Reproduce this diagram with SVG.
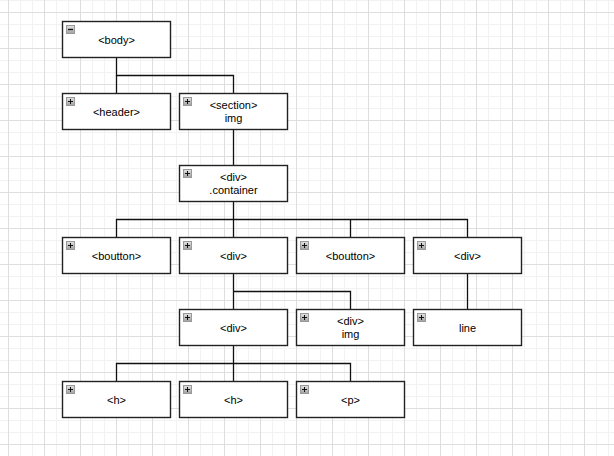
<svg xmlns="http://www.w3.org/2000/svg" width="614" height="456" viewBox="0 0 614 456">
<defs>
<pattern id="minor" width="12" height="12" patternUnits="userSpaceOnUse" x="8" y="12">
<path d="M0 0.5H12M0.5 0V12" stroke="#f2f2f2" stroke-width="1" fill="none"/>
</pattern>
<pattern id="major" width="36" height="36" patternUnits="userSpaceOnUse" x="8" y="12">
<path d="M0 0.5H36M0.5 0V36" stroke="#dedede" stroke-width="1" fill="none"/>
</pattern>
<linearGradient id="ig" x1="0" y1="0" x2="0" y2="1">
<stop offset="0" stop-color="#e4e4e4"/>
<stop offset="1" stop-color="#a0a0a0"/>
</linearGradient>
<g id="plus"><rect x="0.5" y="0.5" width="8" height="8" fill="url(#ig)" stroke="#999" stroke-width="1"/><path d="M2 4.5H7M4.5 2V7" stroke="#111" stroke-width="1"/></g>
<g id="minus"><rect x="0.5" y="0.5" width="8" height="8" fill="url(#ig)" stroke="#999" stroke-width="1"/><path d="M2 4.5H7" stroke="#111" stroke-width="1.3"/></g>
</defs>
<style>
.box{fill:#fff;stroke:#222;stroke-width:1.4}
.t{font-family:"Liberation Sans",Arial,sans-serif;font-size:11px;fill:#000;text-anchor:middle}
.c{fill:none;stroke:#111;stroke-width:1.3}
</style>
<rect width="614" height="456" fill="#fff"/>
<rect width="614" height="456" fill="url(#minor)"/>
<rect width="614" height="456" fill="url(#major)"/>
<g id="connectors">
<path class="c" d="M116.5 57.5V75.5H233.5V93.5"/>
<path class="c" d="M116.5 75.5V93.5"/>
<path class="c" d="M233.5 129.5V165.5"/>
<path class="c" d="M233.5 201.5V237.5"/>
<path class="c" d="M116.5 237.5V219.5H467.5V237.5M350.5 219.5V237.5"/>
<path class="c" d="M233.5 273.5V309.5M233.5 291.5H350.5V309.5"/>
<path class="c" d="M467.5 273.5V309.5"/>
<path class="c" d="M233.5 345.5V381.5M116.5 381.5V363.5H350.5V381.5"/>
</g>
<g id="n-body"><rect class="box" x="62.5" y="21.5" width="108" height="36"/><use href="#minus" x="66" y="25"/><text class="t" x="116.5" y="43.5">&lt;body&gt;</text></g>
<g id="n-header"><rect class="box" x="62.5" y="93.5" width="108" height="36"/><use href="#plus" x="66" y="97"/><text class="t" x="116.5" y="115.5">&lt;header&gt;</text></g>
<g id="n-section"><rect class="box" x="179.5" y="93.5" width="108" height="36"/><use href="#plus" x="183" y="97"/><text class="t" x="233.5" y="108.5">&lt;section&gt;</text><text class="t" x="233.5" y="122">img</text></g>
<g id="n-container"><rect class="box" x="179.5" y="165.5" width="108" height="36"/><use href="#plus" x="183" y="169"/><text class="t" x="233.5" y="180.5">&lt;div&gt;</text><text class="t" x="233.5" y="194">.container</text></g>
<g id="n-boutton1"><rect class="box" x="62.5" y="237.5" width="108" height="36"/><use href="#plus" x="66" y="241"/><text class="t" x="116.5" y="259.5">&lt;boutton&gt;</text></g>
<g id="n-div1"><rect class="box" x="179.5" y="237.5" width="108" height="36"/><use href="#plus" x="183" y="241"/><text class="t" x="233.5" y="259.5">&lt;div&gt;</text></g>
<g id="n-boutton2"><rect class="box" x="296.5" y="237.5" width="108" height="36"/><use href="#plus" x="300" y="241"/><text class="t" x="350.5" y="259.5">&lt;boutton&gt;</text></g>
<g id="n-div2"><rect class="box" x="413.5" y="237.5" width="108" height="36"/><use href="#plus" x="417" y="241"/><text class="t" x="467.5" y="259.5">&lt;div&gt;</text></g>
<g id="n-div3"><rect class="box" x="179.5" y="309.5" width="108" height="36"/><use href="#plus" x="183" y="313"/><text class="t" x="233.5" y="331.5">&lt;div&gt;</text></g>
<g id="n-divimg"><rect class="box" x="296.5" y="309.5" width="108" height="36"/><use href="#plus" x="300" y="313"/><text class="t" x="350.5" y="324.5">&lt;div&gt;</text><text class="t" x="350.5" y="338">img</text></g>
<g id="n-line"><rect class="box" x="413.5" y="309.5" width="108" height="36"/><use href="#plus" x="417" y="313"/><text class="t" x="467.5" y="331.5">line</text></g>
<g id="n-h1"><rect class="box" x="62.5" y="381.5" width="108" height="36"/><use href="#plus" x="66" y="385"/><text class="t" x="116.5" y="403.5">&lt;h&gt;</text></g>
<g id="n-h2"><rect class="box" x="179.5" y="381.5" width="108" height="36"/><use href="#plus" x="183" y="385"/><text class="t" x="233.5" y="403.5">&lt;h&gt;</text></g>
<g id="n-p"><rect class="box" x="296.5" y="381.5" width="108" height="36"/><use href="#plus" x="300" y="385"/><text class="t" x="350.5" y="403.5">&lt;p&gt;</text></g>
</svg>
